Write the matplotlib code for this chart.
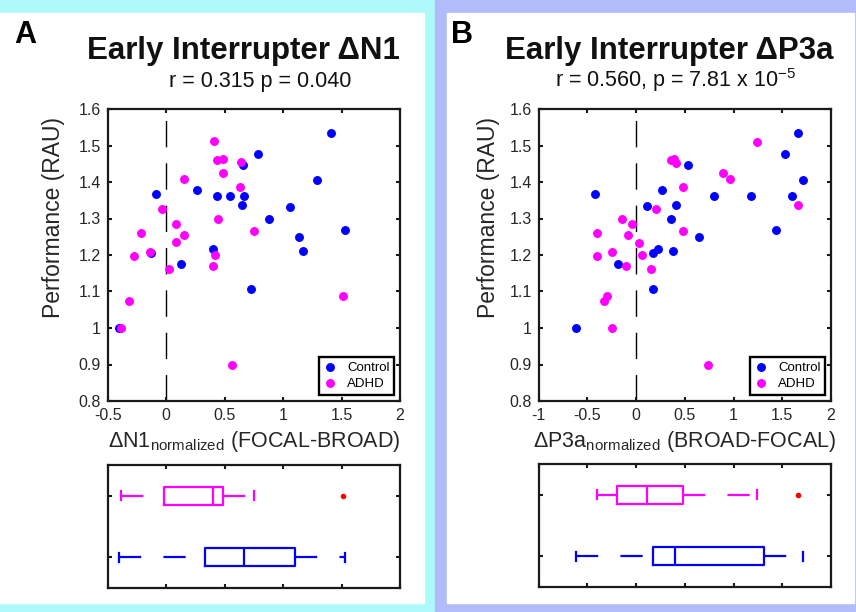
import numpy as np
import matplotlib
matplotlib.use('Agg')
import matplotlib.pyplot as plt
from matplotlib.patches import Rectangle

plt.rcParams['font.family'] = ['Liberation Sans', 'DejaVu Sans']
plt.rcParams['mathtext.fontset'] = 'custom'
plt.rcParams['mathtext.rm'] = 'Liberation Sans'
plt.rcParams['mathtext.it'] = 'Liberation Sans:italic'
plt.rcParams['mathtext.bf'] = 'Liberation Sans:bold'

# ---- data ----
# panel A: early interrupter dN1 (FOCAL-BROAD)
ctrl_x_a = [1.41, 0.79, 0.66, 1.287, -0.086, 0.268, 0.434, 0.548, 0.668, 0.645,
            1.062, 0.882, 1.527, 1.139, 1.167, 0.397, -0.131, 0.128, 0.722, -0.40]
ctrl_y_a = [1.534, 1.478, 1.446, 1.406, 1.368, 1.379, 1.362, 1.362, 1.362, 1.336,
            1.332, 1.298, 1.268, 1.248, 1.211, 1.216, 1.206, 1.175, 1.108, 1.0]
adhd_x_a = [0.408, 0.437, 0.485, 0.639, 0.488, 0.151, 0.628, -0.034, 0.445, 0.088,
            -0.214, 0.154, 0.748, 0.083, -0.14, -0.274, 0.42, 0.402, 0.023, 1.515,
            -0.32, -0.383, 0.565]
adhd_y_a = [1.511, 1.461, 1.464, 1.455, 1.424, 1.408, 1.386, 1.327, 1.3, 1.286,
            1.26, 1.255, 1.267, 1.235, 1.209, 1.197, 1.199, 1.17, 1.163, 1.089,
            1.074, 0.999, 0.899]

# panel B: early interrupter dP3a (BROAD-FOCAL)
ctrl_x_b = [1.66, 1.533, 0.534, 1.711, -0.421, 0.27, 0.804, 1.181, 1.595, 0.411,
            0.116, 0.359, 1.44, 0.647, 0.229, 0.178, 0.377, -0.188, 0.178, -0.62]
ctrl_y_b = [1.533, 1.478, 1.447, 1.406, 1.368, 1.379, 1.362, 1.362, 1.362, 1.336,
            1.333, 1.298, 1.268, 1.248, 1.217, 1.206, 1.21, 1.175, 1.108, 1.0]
adhd_x_b = [1.239, 0.359, 0.39, 0.411, 0.89, 0.968, 0.479, 1.663, 0.209, -0.144,
            -0.041, -0.397, -0.079, 0.486, 0.027, -0.25, -0.40, 0.065, -0.103, 0.157,
            -0.298, -0.329, -0.25, 0.736]
adhd_y_b = [1.51, 1.461, 1.464, 1.453, 1.424, 1.407, 1.385, 1.336, 1.327, 1.3,
            1.286, 1.26, 1.255, 1.267, 1.234, 1.209, 1.197, 1.199, 1.17, 1.163,
            1.089, 1.074, 0.999, 0.899]

titles = ['Early Interrupter \u0394N1', 'Early Interrupter \u0394P3a']
stats_txt = ['r = 0.315 p = 0.040', r'r = 0.560, p = 7.81 x 10$^{\mathrm{-5}}$']
xlabels = ['\u0394N1$_{\\mathrm{normalized}}$ (FOCAL-BROAD)',
           '\u0394P3a$_{\\mathrm{normalized}}$ (BROAD-FOCAL)']
xlims = [(-0.5, 2), (-1, 2)]
xticks = [[-0.5, 0, 0.5, 1, 1.5, 2], [-1, -0.5, 0, 0.5, 1, 1.5, 2]]
yticks = [0.8, 0.9, 1, 1.1, 1.2, 1.3, 1.4, 1.5, 1.6]
panel_letters = ['A', 'B']

BLUE = '#0000ff'
MAG = '#ff00ff'
DARK = '#262626'
W, H = 856, 612


def rect(l, t, r, b):
    return [l / W, 1 - b / H, (r - l) / W, (b - t) / H]


def box_stats(vals):
    v = np.sort(np.asarray(vals))
    q1, med, q3 = np.percentile(v, [25, 50, 75], method='hazen')
    iqr = q3 - q1
    lo_lim, hi_lim = q1 - 1.5 * iqr, q3 + 1.5 * iqr
    inside = v[(v >= lo_lim) & (v <= hi_lim)]
    return dict(med=med, q1=q1, q3=q3, whislo=inside.min(), whishi=inside.max(),
                fliers=v[(v < lo_lim) | (v > hi_lim)])


def style_axes(ax):
    for s in ax.spines.values():
        s.set_linewidth(1.6)
        s.set_color('#1a1a1a')
    ax.tick_params(direction='in', top=True, right=True, length=3, width=1.5,
                   color='#1a1a1a', labelcolor=DARK, labelsize=11.5, pad=5)


fig = plt.figure(figsize=(W / 100, H / 100), dpi=100)

# coloured panel frames
fig.patches.append(Rectangle((0, 0), 435 / W, 1, transform=fig.transFigure,
                             color='#aefafa', zorder=-10))
fig.patches.append(Rectangle((435 / W, 0), 1 - 435 / W, 1, transform=fig.transFigure,
                             color='#b2bcfa', zorder=-10))
fig.patches.append(Rectangle((0, 1 - 603 / H), 424 / W, (603 - 12.5) / H,
                             transform=fig.transFigure, color='white', zorder=-9))
fig.patches.append(Rectangle((446.5 / W, 1 - 603 / H), (854 - 446.5) / W, (603 - 12.5) / H,
                             transform=fig.transFigure, color='white', zorder=-9))

scatter_rects = [rect(107.6, 109, 400, 401), rect(538.7, 109, 831, 401)]
box_rects = [rect(107.6, 465, 400, 588), rect(538.7, 464, 831, 587)]
title_cx = [243, 669]
sub_cx = [260, 676]
letter_x = [14, 451]
ylab_x = [-0.146, -0.132]

data = [(ctrl_x_a, ctrl_y_a, adhd_x_a, adhd_y_a),
        (ctrl_x_b, ctrl_y_b, adhd_x_b, adhd_y_b)]

for i in range(2):
    cx, cy, ax_, ay_ = data[i]
    ax = fig.add_axes(scatter_rects[i])
    ax.plot([0, 0], [0.8, 1.6], color='k', lw=1.0, linestyle=(0, (19, 11.5)), zorder=1)
    ax.plot(cx, cy, 'o', color=BLUE, markersize=5.4, label='Control', zorder=3)
    ax.plot(ax_, ay_, 'o', color=MAG, markersize=5.4, label='ADHD', zorder=4)
    ax.set_xlim(*xlims[i])
    ax.set_ylim(0.8, 1.6)
    ax.set_xticks(xticks[i])
    ax.set_xticklabels([f'{t:g}' for t in xticks[i]])
    ax.set_yticks(yticks)
    ax.set_yticklabels([f'{t:g}' for t in yticks])
    style_axes(ax)
    ax.set_ylabel('Performance (RAU)', fontsize=16.5, color=DARK)
    ax.yaxis.set_label_coords(ylab_x[i], 0.63)
    ax.set_xlabel(xlabels[i], fontsize=15.5, color=DARK, labelpad=4)
    leg = ax.legend(loc='lower right', fontsize=9.5, fancybox=False, framealpha=1,
                    edgecolor='k', handlelength=1.0, handletextpad=0.8,
                    borderpad=0.35, labelspacing=0.3, borderaxespad=0.45)
    leg.get_frame().set_linewidth(1.7)

    fig.text(title_cx[i] / W, 1 - 59 / H, titles[i], fontsize=22.5, fontweight='bold',
             ha='center', va='baseline', color='#111111')
    fig.text(sub_cx[i] / W, 1 - 87 / H, stats_txt[i], fontsize=15.5,
             ha='center', va='baseline', color='#111111')
    fig.text(letter_x[i] / W, 1 - 43 / H, panel_letters[i], fontsize=22,
             fontweight='bold', ha='left', va='baseline', color='k')

    # box plots below
    bx = fig.add_axes(box_rects[i])
    for vals, pos, col in [(cx, 1, BLUE), (ax_, 2, MAG)]:
        st = box_stats(vals)
        art = bx.bxp([st], positions=[pos], widths=0.3, capwidths=0.15,
                     orientation='horizontal', manage_ticks=False,
                     boxprops=dict(color=col, lw=1.6),
                     whiskerprops=dict(color=col, lw=1.6, linestyle=(0, (10, 10))),
                     capprops=dict(color=col, lw=1.6),
                     medianprops=dict(color=col, lw=1.6),
                     flierprops=dict(marker='o', markersize=3, markerfacecolor='r',
                                     markeredgecolor='r', linestyle='none'))
        # lower whisker runs from its cap towards the box
        w0 = art['whiskers'][0]
        w0.set_data(w0.get_xdata()[::-1], w0.get_ydata()[::-1])
    bx.set_xlim(*xlims[i])
    bx.set_ylim(0.5, 2.5)
    bx.set_xticks(xticks[i])
    bx.set_yticks([1, 2])
    bx.set_xticklabels([])
    bx.set_yticklabels([])
    style_axes(bx)

fig.savefig('out.png', dpi=100, facecolor='white')
